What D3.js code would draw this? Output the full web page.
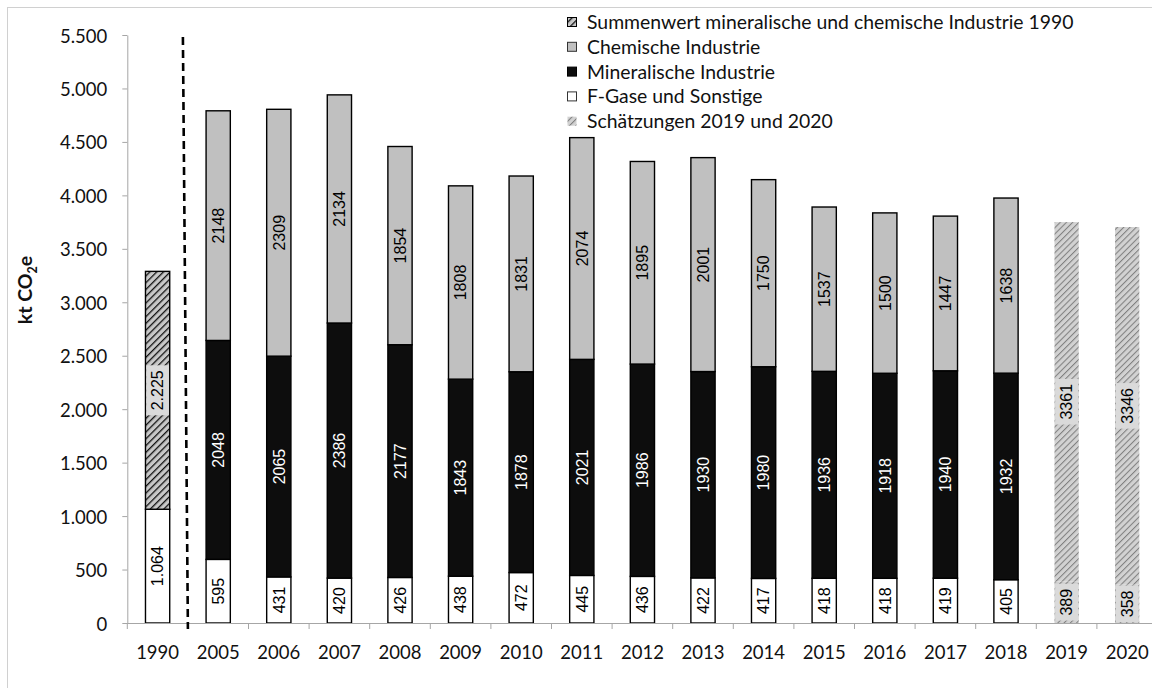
<!DOCTYPE html>
<html>
<head>
<meta charset="utf-8">
<script src="https://cdn.jsdelivr.net/npm/d3@7"></script>
<style>
  html, body { margin: 0; padding: 0; background: #fff; }
  svg { display: block; }
</style>
</head>
<body>
<svg id="chart" width="1152" height="688"></svg>
<script>
// Emissions of the industrial processes sector, kt CO2e
const years = ["1990", "2005", "2006", "2007", "2008", "2009", "2010", "2011",
  "2012", "2013", "2014", "2015", "2016", "2017", "2018", "2019", "2020"];
const inventoryYears = ["2005", "2006", "2007", "2008", "2009", "2010", "2011",
  "2012", "2013", "2014", "2015", "2016", "2017", "2018"];
const fGase = [595, 431, 420, 426, 438, 472, 445, 436, 422, 417, 418, 418, 419, 405];
const mineralisch = [2048, 2065, 2386, 2177, 1843, 1878, 2021, 1986, 1930, 1980, 1936, 1918, 1940, 1932];
const chemisch = [2148, 2309, 2134, 1854, 1808, 1831, 2074, 1895, 2001, 1750, 1537, 1500, 1447, 1638];
const baseYear = "1990";
const fGase1990 = 1064;
const summe1990 = 2225;
const estimateYears = ["2019", "2020"];
const estimateLower = [389, 358];
const estimateUpper = [3361, 3346];
const yTicks = [0, 500, 1000, 1500, 2000, 2500, 3000, 3500, 4000, 4500, 5000, 5500];
const legendLabels = [
  "Summenwert mineralische und chemische Industrie 1990",
  "Chemische Industrie",
  "Mineralische Industrie",
  "F-Gase und Sonstige",
  "Schätzungen 2019 und 2020"
];

const svg = d3.select("#chart");
const deFormat = d3.formatLocale({ decimal: ",", thousands: ".", grouping: [3], currency: ["", " €"] }).format(",d");
const plainFormat = d3.format("d");

const axisFont = "Lato, 'Open Sans', sans-serif";
const valueFont = "'Liberation Sans', Arial, sans-serif";

// outer frame
svg.append("rect")
  .attr("x", 7.5).attr("y", 7.5)
  .attr("width", 1200).attr("height", 720)
  .attr("fill", "none").attr("stroke", "#d0d0d0").attr("stroke-width", 1);

// scales
const x = d3.scaleBand().domain(years).range([127.3, 127.3 + 60.6 * years.length]).padding(0);
const y = d3.scaleLinear().domain([0, 5500]).range([623, 35]);
const barW = x.bandwidth() * 0.4;
const barX = yr => x(yr) + (x.bandwidth() - barW) / 2;

// patterns
const defs = svg.append("defs");
function hatch(id, bg, fg, size, sw) {
  const p = defs.append("pattern")
    .attr("id", id).attr("patternUnits", "userSpaceOnUse")
    .attr("width", size).attr("height", size)
    .attr("patternTransform", "rotate(45)");
  p.append("rect").attr("width", size).attr("height", size).attr("fill", bg);
  p.append("line").attr("x1", 0).attr("y1", 0).attr("x2", 0).attr("y2", size)
    .attr("stroke", fg).attr("stroke-width", sw);
}
hatch("hatchDark", "#c8c8c8", "#111", 4.8, 2.6);
hatch("hatchGrey", "#d2d2d2", "#7f7f7f", 4.4, 2.1);

// build segments
const segments = [];
function pushStack(yr, parts) {
  let base = 0;
  parts.forEach(p => {
    segments.push(Object.assign({ year: yr, y0: base, y1: base + p.value }, p));
    base += p.value;
  });
}
pushStack(baseYear, [
  { key: "f", value: fGase1990, fill: "#fff", stroke: "#000", text: "#000", fmt: deFormat, box: false },
  { key: "sum", value: summe1990, fill: "url(#hatchDark)", stroke: "#000", text: "#000", fmt: deFormat, box: true }
]);
inventoryYears.forEach((yr, i) => {
  pushStack(yr, [
    { key: "f", value: fGase[i], fill: "#fff", stroke: "#000", text: "#000", fmt: plainFormat, box: false },
    { key: "m", value: mineralisch[i], fill: "#0d0d0d", stroke: "#000", text: "#fff", fmt: plainFormat, box: false },
    { key: "c", value: chemisch[i], fill: "#c0c0c0", stroke: "#000", text: "#000", fmt: plainFormat, box: false }
  ]);
});
estimateYears.forEach((yr, i) => {
  pushStack(yr, [
    { key: "el", value: estimateLower[i], fill: "url(#hatchGrey)", stroke: "none", text: "#000", fmt: plainFormat, box: true },
    { key: "eu", value: estimateUpper[i], fill: "url(#hatchGrey)", stroke: "none", text: "#000", fmt: plainFormat, box: true }
  ]);
});

// bars
const bars = svg.append("g");
bars.selectAll("rect").data(segments).join("rect")
  .attr("x", d => barX(d.year))
  .attr("y", d => y(d.y1))
  .attr("width", barW)
  .attr("height", d => y(d.y0) - y(d.y1))
  .attr("fill", d => d.fill)
  .attr("stroke", d => d.stroke)
  .attr("stroke-width", 1.4);

// value labels (rotated)
const labels = svg.append("g");
segments.forEach(d => {
  const cx = barX(d.year) + barW / 2;
  const cy = (y(d.y0) + y(d.y1)) / 2;
  const g = labels.append("g").attr("transform", `translate(${cx},${cy}) rotate(-90)`);
  const t = g.append("text")
    .attr("text-anchor", "middle")
    .attr("dy", "0.36em")
    .attr("font-family", valueFont)
    .attr("font-size", 16)
    .attr("fill", d.text)
    .text(d.fmt(d.value));
  if (d.box) {
    const len = t.node().getComputedTextLength();
    const bw = Math.min(len + 10, y(d.y0) - y(d.y1));
    g.insert("rect", "text")
      .attr("x", -bw / 2).attr("y", -barW / 2 + 0.7)
      .attr("width", bw).attr("height", barW - 1.4)
      .attr("fill", "#dadada");
  }
});

// y axis
const yAxis = svg.append("g")
  .attr("transform", `translate(${x.range()[0]},0)`)
  .call(d3.axisLeft(y).tickValues(yTicks).tickFormat(deFormat).tickSize(5).tickSizeOuter(0).tickPadding(15));
yAxis.select(".domain").attr("stroke", "#a6a6a6");
yAxis.selectAll(".tick line").attr("stroke", "#a6a6a6");
yAxis.selectAll(".tick text")
  .attr("font-family", axisFont).attr("font-size", 18.5).attr("fill", "#111")
  .attr("dy", "0.38em");

// x axis: baseline, boundary ticks, labels
const xAxisG = svg.append("g");
xAxisG.append("line")
  .attr("x1", x.range()[0]).attr("x2", x.range()[1])
  .attr("y1", y(0) + 0.5).attr("y2", y(0) + 0.5)
  .attr("stroke", "#a6a6a6");
xAxisG.selectAll("line.b").data(years).join("line").attr("class", "b")
  .attr("x1", d => x(d)).attr("x2", d => x(d))
  .attr("y1", y(0)).attr("y2", y(0) + 6)
  .attr("stroke", "#a6a6a6");
xAxisG.selectAll("text").data(years).join("text")
  .attr("x", d => x(d) + x.bandwidth() / 2)
  .attr("y", y(0) + 36)
  .attr("text-anchor", "middle")
  .attr("font-family", axisFont).attr("font-size", 18.5).attr("fill", "#111")
  .text(d => d);

// separator between base year and time series
const sepX = x(inventoryYears[0]);
svg.append("line")
  .attr("x1", sepX - 5).attr("y1", y(5500) + 2)
  .attr("x2", sepX).attr("y2", y(0) + 6)
  .attr("stroke", "#000").attr("stroke-width", 2.6)
  .attr("stroke-dasharray", "8,5");

// y axis title
svg.append("text")
  .attr("transform", `translate(32,290) rotate(-90)`)
  .attr("text-anchor", "middle")
  .attr("font-family", axisFont).attr("font-weight", "bold").attr("font-size", 19.5)
  .attr("fill", "#111")
  .call(t => {
    t.append("tspan").text("kt CO");
    t.append("tspan").attr("font-size", 12.5).attr("dy", 5).text("2");
    t.append("tspan").attr("dy", -5).text("e");
  });

// legend
const legendStyles = [
  { fill: "url(#hatchDark)", stroke: "#000" },
  { fill: "#c0c0c0", stroke: "#333" },
  { fill: "#0d0d0d", stroke: "#000" },
  { fill: "#fff", stroke: "#333" },
  { fill: "url(#hatchGrey)", stroke: "none" }
];
const legend = svg.append("g").attr("transform", "translate(567,22)");
legendLabels.forEach((lab, i) => {
  const row = legend.append("g").attr("transform", `translate(0,${i * 24.8})`);
  row.append("rect").attr("x", 0.5).attr("y", -4.5).attr("width", 9).attr("height", 9)
    .attr("fill", legendStyles[i].fill).attr("stroke", legendStyles[i].stroke).attr("stroke-width", 1);
  row.append("text").attr("x", 20).attr("dy", "0.36em")
    .attr("font-family", axisFont).attr("font-size", 19.4).attr("fill", "#111")
    .text(lab);
});
</script>
</body>
</html>
